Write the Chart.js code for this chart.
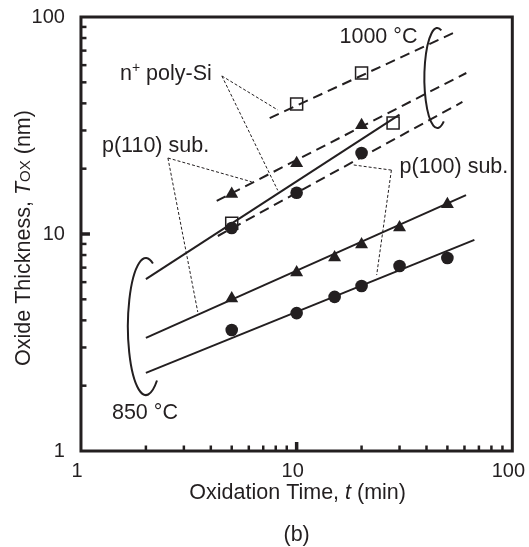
<!DOCTYPE html>
<html><head><meta charset="utf-8">
<script src="https://cdn.jsdelivr.net/npm/chart.js@4.4.1/dist/chart.umd.min.js"></script>
<style>html,body{margin:0;padding:0;background:#fff;}canvas{display:block;}</style>
</head><body>
<canvas id="c" width="529" height="547"></canvas>
<script>
// ---- tick labels ----
const xTickLabels = [1, 10, 100];
const yTickLabels = [1, 10, 100];
const minorTicks = [2,3,4,5,6,7,8,9,20,30,40,50,60,70,80,90];
const majorTicks = [10];

// ---- measured points (t in min, Tox in nm) ----
const t850p100 = [5, 10, 15, 20, 30, 50];
const T850p100 = [3.61, 4.32, 5.13, 5.76, 7.12, 7.75];
const t850p110 = [5, 10, 15, 20, 30, 50];
const T850p110 = [5.05, 6.64, 7.8, 8.95, 10.7, 13.7];
const t850poly = [5, 28];
const T850poly = [11.2, 32.5];
const t1000p100 = [5, 10, 20];
const T1000p100 = [10.66, 15.5, 23.6];
const t1000p110 = [5, 10, 20];
const T1000p110 = [15.3, 21.2, 31.7];
const t1000poly = [10, 20];
const T1000poly = [39.7, 55.2];

// ---- fitted lines (start, end) ----
const fit850p100_t = [2, 66.7],  fit850p100_T = [2.29, 9.4];
const fit850p110_t = [2, 61],    fit850p110_T = [3.32, 15.1];
const fit850poly_t = [2, 30],    fit850poly_T = [6.2, 35.5];
const fit1000poly_t = [7.5, 53.3],  fit1000poly_T = [34.2, 84.4];
const fit1000p110_t = [4.26, 61.2], fit1000p110_T = [14.2, 55.2];
const fit1000p100_t = [4.31, 58.7], fit1000p100_T = [9.79, 40.6];

// ---- annotation labels (left/baseline in data coords) ----
const labelTexts = ['n⁺ poly-Si', 'p(110) sub.', 'p(100) sub.', '1000 °C', '850 °C'];
const labelT =   [1.516, 1.251, 30.0, 15.8, 1.392];
const labelTox = [51.3, 23.9, 19.1, 75.9, 1.404];

// leader lines: [from, to] pairs in data coords
const leaderFromT =   [4.50, 4.50, 2.53, 2.53, 27.5, 27.5];
const leaderFromTox = [53.5, 53.5, 22.4, 22.4, 19.7, 19.7];
const leaderToT =     [8.17, 8.17, 6.19, 3.48, 18.4, 23.5];
const leaderToTox =   [37.3, 15.9, 17.4, 4.37, 20.8, 6.47];

// temperature brackets (elliptic arcs)
const bracketCenterT = [2.0, 44.9];
const bracketLeftT =   [1.65, 39.1];
const bracketTopTox =  [7.75, 89.0];
const bracketBotTox =  [1.81, 30.8];
const bracketStartDeg = [-67, -72];
const bracketEndDeg =   [52, 60];

const INK = '#231f20';
const FAM = '"Liberation Sans", Arial, Helvetica, sans-serif';

const pts = (ts, Ts) => ts.map((t, i) => ({x: t, y: Ts[i]}));
const lineDs = (ts, Ts, dashed) => ({
  data: pts(ts, Ts), showLine: true, pointRadius: 0, borderColor: INK,
  borderWidth: 2, borderDash: dashed ? [10, 6] : [], fill: false, order: 2
});
const markDs = (ts, Ts, style) => ({
  data: pts(ts, Ts), showLine: false, pointStyle: style,
  pointRadius: style === 'rect' ? 8.5 : (style === 'triangle' ? 7.5 : 6.3),
  pointBackgroundColor: style === 'rect' ? 'rgba(0,0,0,0)' : INK,
  pointBorderColor: INK, pointBorderWidth: style === 'rect' ? 1.5 : 0, order: 1
});

function drawRich(ctx, text, x, y, size, align) {
  const segs = [];
  if (text.includes('⁺')) {
    const [a, b] = text.split('⁺');
    segs.push({t: a, f: size + 'px ' + FAM, dy: 0});
    segs.push({t: '+', f: Math.round(size * 0.65) + 'px ' + FAM, dy: -size * 0.38});
    segs.push({t: b, f: size + 'px ' + FAM, dy: 0});
  } else segs.push({t: text, f: size + 'px ' + FAM, dy: 0});
  drawSegs(ctx, segs, x, y, align);
}
function drawSegs(ctx, segs, x, y, align) {
  let total = 0;
  segs.forEach(s => { ctx.font = s.f; s.w = ctx.measureText(s.t).width; total += s.w; });
  let cx = align === 'center' ? x - total / 2 : x;
  ctx.textAlign = 'left'; ctx.textBaseline = 'alphabetic';
  segs.forEach(s => { ctx.font = s.f; ctx.fillText(s.t, cx, y + (s.dy || 0)); cx += s.w; });
}

const annot = {
  id: 'annot',
  afterDraw(chart) {
    const {ctx, chartArea: a, scales: {x, y}} = chart;
    const X = v => x.getPixelForValue(v), Y = v => y.getPixelForValue(v);
    const seg = (x1, y1, x2, y2) => { ctx.beginPath(); ctx.moveTo(x1, y1); ctx.lineTo(x2, y2); ctx.stroke(); };
    ctx.save();
    ctx.strokeStyle = INK; ctx.fillStyle = INK;
    // inward ticks
    ctx.lineCap = 'butt';
    ctx.lineWidth = 2.5;
    minorTicks.forEach(v => {
      seg(X(v), a.bottom, X(v), a.bottom - 5.5);
      seg(a.left, Y(v), a.left + 5.5, Y(v));
    });
    ctx.lineWidth = 3.5;
    majorTicks.forEach(v => {
      seg(X(v), a.bottom, X(v), a.bottom - 9);
      seg(a.left, Y(v), a.left + 9, Y(v));
    });
    // frame
    ctx.lineWidth = 3;
    ctx.strokeRect(a.left, a.top, a.right - a.left, a.bottom - a.top);
    // leader lines
    ctx.lineWidth = 1; ctx.setLineDash([3, 2]);
    leaderFromT.forEach((t, i) => seg(X(t), Y(leaderFromTox[i]), X(leaderToT[i]), Y(leaderToTox[i])));
    ctx.setLineDash([]);
    // brackets
    ctx.lineWidth = 2;
    bracketCenterT.forEach((t, i) => {
      const cx = X(t), top = Y(bracketTopTox[i]), bot = Y(bracketBotTox[i]);
      const cy = (top + bot) / 2, ry = (bot - top) / 2, rx = cx - X(bracketLeftT[i]);
      ctx.beginPath();
      ctx.ellipse(cx, cy, rx, ry, 0, bracketStartDeg[i] * Math.PI / 180, bracketEndDeg[i] * Math.PI / 180, true);
      ctx.stroke();
    });
    // labels
    labelTexts.forEach((s, i) => drawRich(ctx, s, X(labelT[i]), Y(labelTox[i]), 21.5, 'left'));
    // axis titles
    const midX = (a.left + a.right) / 2, midY = (a.top + a.bottom) / 2;
    drawSegs(ctx, [
      {t: 'Oxidation Time, ', f: '21.5px ' + FAM},
      {t: 't', f: 'italic 21.5px ' + FAM},
      {t: ' (min)', f: '21.5px ' + FAM}
    ], midX + 1, a.bottom + 48, 'center');
    drawSegs(ctx, [{t: '(b)', f: '21.5px ' + FAM}], midX, a.bottom + 90, 'center');
    ctx.translate(30, midY + 4);
    ctx.rotate(-Math.PI / 2);
    drawSegs(ctx, [
      {t: 'Oxide Thickness, ', f: '21.5px ' + FAM},
      {t: 'T', f: 'italic 21.5px ' + FAM},
      {t: 'OX', f: '15px ' + FAM},
      {t: ' (nm)', f: '21.5px ' + FAM}
    ], 0, 0, 'center');
    ctx.restore();
  }
};

const isLabel = (arr, v) => arr.some(l => Math.abs(l - v) < 1e-6);

new Chart(document.getElementById('c'), {
  type: 'scatter',
  data: {
    datasets: [
      markDs(t850p100, T850p100, 'circle'),
      markDs(t850p110, T850p110, 'triangle'),
      markDs(t850poly, T850poly, 'rect'),
      markDs(t1000p100, T1000p100, 'circle'),
      markDs(t1000p110, T1000p110, 'triangle'),
      markDs(t1000poly, T1000poly, 'rect'),
      lineDs(fit850p100_t, fit850p100_T, false),
      lineDs(fit850p110_t, fit850p110_T, false),
      lineDs(fit850poly_t, fit850poly_T, false),
      lineDs(fit1000poly_t, fit1000poly_T, true),
      lineDs(fit1000p110_t, fit1000p110_T, true),
      lineDs(fit1000p100_t, fit1000p100_T, true)
    ]
  },
  options: {
    responsive: false, animation: false, devicePixelRatio: 1,
    layout: {padding: {left: 31.6, top: 17, right: 16, bottom: 66}},
    plugins: {legend: {display: false}, tooltip: {enabled: false}},
    scales: {
      x: {
        type: 'logarithmic', min: 1, max: 100,
        grid: {display: false, drawTicks: true, tickLength: 10}, border: {display: false},
        ticks: {autoSkip: false, maxRotation: 0, padding: 0, labelOffset: -4, color: INK,
          font: {family: FAM, size: 20, lineHeight: 1},
          callback: v => isLabel(xTickLabels, v) ? String(v) : ''}
      },
      y: {
        type: 'logarithmic', min: 1, max: 100,
        grid: {display: false, drawTicks: true, tickLength: 16}, border: {display: false},
        ticks: {autoSkip: false, padding: 0, color: INK,
          font: {family: FAM, size: 20, lineHeight: 1},
          callback: v => isLabel(yTickLabels, v) ? String(v) : ''}
      }
    }
  },
  plugins: [annot]
});
</script>
</body></html>
